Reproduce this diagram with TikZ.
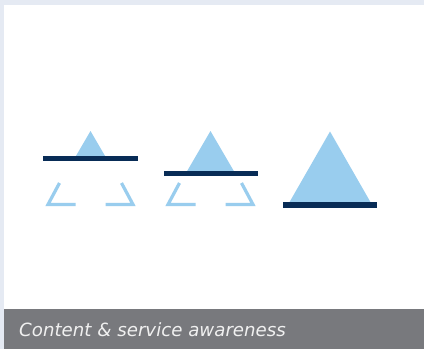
\documentclass[tikz,border=0pt]{standalone}
\usepackage{fontspec}
\usepackage{xcolor}
\newfontfamily\capfont{DejaVu Sans}
\definecolor{framebg}{RGB}{229,234,243}
\definecolor{bandgray}{RGB}{120,121,125}
\definecolor{icebergblue}{RGB}{153,205,238}
\definecolor{waterline}{RGB}{8,44,86}
\tikzset{
  tip/.style={fill=icebergblue},
  hiddenpart/.style={draw=icebergblue, line width=3.2pt, miter limit=4},
  waterbar/.style={fill=waterline}
}

\begin{document}
\begin{tikzpicture}[x=1pt, y=-1pt]
            \useasboundingbox (0, 0) rectangle (424, 349);
            \fill[white] (0, 0) rectangle (424, 349);
            \fill[framebg] (0, 0) rectangle (424, 5);
            \fill[framebg] (0, 0) rectangle (4, 349);
            \fill[bandgray] (4, 309) rectangle (424, 349);

            % first: small tip above the line
            \begin{scope}
                \clip (0, 0) rectangle (424, 158);
                \fill[tip] (90.5, 131) -- (132.5, 203) -- (48.5, 203) -- cycle;
            \end{scope}
            \draw[hiddenpart] (59.5, 183) -- (48, 204.5) -- (75.5, 204.5);
            \draw[hiddenpart] (121.5, 183) -- (133, 204.5) -- (105.5, 204.5);
            \fill[waterbar] (43, 156) rectangle (138, 161.2);

            % second: larger tip
            \begin{scope}
                \clip (0, 0) rectangle (424, 172);
                \fill[tip] (210.5, 131) -- (252.5, 203) -- (168.5, 203) -- cycle;
            \end{scope}
            \draw[hiddenpart] (179.5, 183) -- (168, 204.5) -- (195.5, 204.5);
            \draw[hiddenpart] (241.5, 183) -- (253, 204.5) -- (225.5, 204.5);
            \fill[waterbar] (163.5, 170.6) rectangle (257.5, 175.7);

            % third: whole triangle
            \fill[tip] (330, 131.5) -- (371, 203) -- (289, 203) -- cycle;
            \fill[waterbar] (283, 202.3) rectangle (377.3, 207.7);

            \node[anchor=base west, inner sep=0, text=white!94!black,
                  font=\capfont\itshape\fontsize{18.2}{21}\selectfont] (caption) at (19, 336) {Content \& service awareness};

        \end{tikzpicture}
\end{document}
